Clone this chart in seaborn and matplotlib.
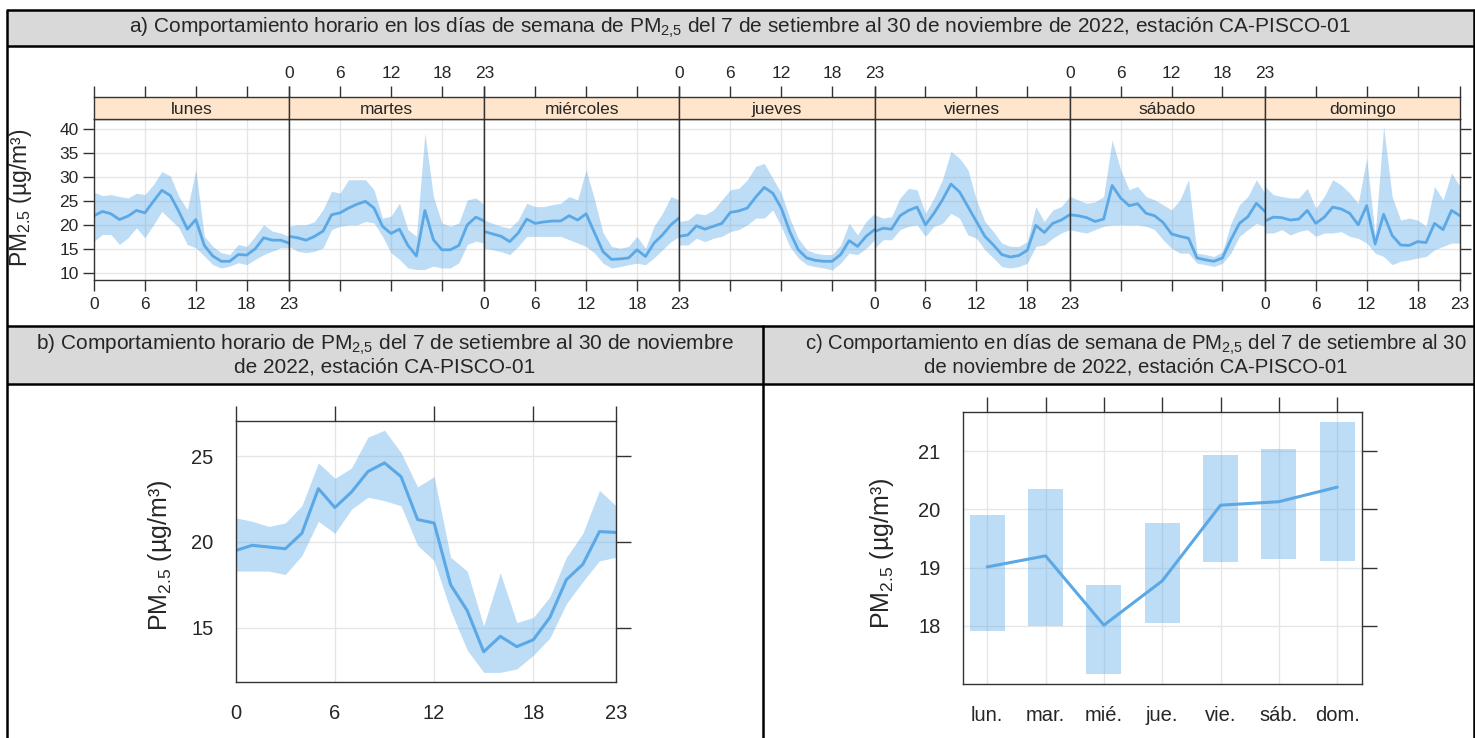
import matplotlib
matplotlib.use("Agg")
import matplotlib.pyplot as plt
import seaborn as sns
import numpy as np
import pandas as pd

# ---------------- data ----------------
hours = list(range(24))
days = ["lunes", "martes", "miércoles", "jueves", "viernes", "sábado", "domingo"]

lunes_mean = [21.9, 22.8, 22.3, 21.1, 21.8, 23.0, 22.5, 24.9, 27.2, 26.1, 22.8, 19.1, 21.1, 15.7, 13.5, 12.4, 12.4, 13.8, 13.7, 15.0, 17.3, 16.8, 16.8, 16.2]
lunes_hi = [26.8, 26.1, 26.3, 25.9, 25.6, 26.6, 26.3, 28.4, 31.1, 30.2, 25.9, 23.2, 31.5, 17.6, 15.5, 14.2, 13.8, 15.9, 15.5, 17.6, 20.0, 18.7, 18.3, 17.6]
lunes_lo = [16.6, 18.0, 18.0, 15.9, 17.3, 19.4, 17.3, 20.0, 22.8, 21.1, 19.4, 15.9, 15.2, 13.5, 11.7, 11.0, 11.4, 12.1, 11.7, 12.8, 13.8, 14.5, 15.2, 15.2]

martes_mean = [17.6, 17.3, 16.8, 17.6, 18.7, 22.1, 22.5, 23.5, 24.3, 24.9, 23.5, 19.7, 18.2, 19.1, 15.7, 13.5, 23.0, 16.9, 14.8, 14.8, 15.7, 20.0, 21.6, 20.8]
martes_hi = [19.7, 20.0, 20.0, 20.7, 23.2, 27.0, 26.6, 29.4, 29.4, 29.4, 27.3, 21.4, 21.8, 24.5, 19.0, 17.6, 39.1, 25.9, 20.4, 19.7, 20.4, 25.2, 25.6, 24.2]
martes_lo = [15.5, 14.5, 14.2, 14.5, 15.2, 19.0, 19.7, 20.0, 20.0, 20.7, 20.4, 17.6, 14.2, 12.8, 11.0, 10.7, 10.7, 11.4, 11.0, 11.0, 12.1, 15.9, 16.6, 16.2]

miercoles_mean = [18.6, 18.1, 17.6, 16.5, 18.3, 21.2, 20.3, 20.6, 20.8, 20.8, 21.9, 21.0, 22.3, 18.3, 14.4, 12.8, 12.9, 13.1, 14.8, 13.4, 16.2, 17.9, 20.0, 21.5]
miercoles_hi = [21.0, 20.3, 19.7, 19.3, 21.0, 24.5, 23.8, 23.8, 24.2, 24.5, 25.9, 25.2, 31.5, 25.2, 18.3, 15.5, 15.1, 15.5, 17.6, 15.1, 19.7, 22.4, 25.9, 25.2]
miercoles_lo = [15.1, 14.8, 14.4, 13.8, 15.5, 17.6, 17.6, 17.6, 17.6, 17.6, 16.9, 16.2, 15.5, 14.1, 12.0, 11.0, 11.3, 11.7, 12.0, 11.7, 13.1, 14.8, 16.5, 17.6]

jueves_mean = [17.6, 17.9, 19.8, 19.1, 19.7, 20.3, 22.6, 22.9, 23.5, 25.8, 27.8, 26.6, 23.5, 18.6, 14.8, 13.1, 12.6, 12.4, 12.4, 13.8, 16.7, 15.5, 17.6, 19.0]
jueves_hi = [20.7, 21.0, 22.4, 22.1, 23.1, 25.2, 27.3, 27.6, 29.4, 32.2, 32.8, 29.7, 26.6, 21.4, 17.2, 14.8, 14.1, 13.8, 13.8, 15.8, 20.3, 17.9, 20.7, 22.4]
jueves_lo = [15.8, 15.8, 17.2, 16.5, 17.2, 17.6, 18.6, 19.0, 20.0, 21.4, 21.4, 23.1, 19.7, 15.5, 13.1, 11.7, 11.3, 11.0, 10.6, 12.0, 14.1, 13.8, 15.1, 16.9]

viernes_mean = [18.6, 19.3, 19.1, 21.9, 23.0, 23.7, 20.0, 22.4, 25.2, 28.5, 26.9, 23.8, 20.7, 17.6, 15.8, 13.8, 13.3, 13.6, 14.7, 19.9, 18.4, 20.3, 21.0, 22.1]
viernes_hi = [22.1, 21.4, 21.7, 25.6, 27.6, 27.3, 22.4, 25.6, 29.4, 35.3, 33.9, 31.5, 25.2, 20.7, 18.6, 16.2, 15.5, 15.5, 16.5, 23.8, 20.7, 23.1, 23.8, 25.9]
viernes_lo = [15.1, 16.9, 16.9, 19.0, 19.7, 20.0, 17.6, 19.7, 20.3, 22.4, 21.4, 17.9, 17.2, 14.8, 13.1, 11.3, 11.0, 11.3, 12.0, 15.5, 15.8, 17.2, 18.3, 19.0]

sabado_mean = [22.1, 21.9, 21.5, 20.7, 21.2, 28.2, 25.6, 24.0, 24.4, 22.4, 21.9, 20.5, 18.1, 17.6, 17.2, 13.1, 12.7, 12.4, 13.1, 16.9, 20.3, 21.7, 24.5, 22.8]
sabado_hi = [25.9, 25.2, 24.5, 24.8, 25.9, 37.7, 31.5, 27.3, 28.0, 25.9, 25.2, 24.2, 23.1, 25.2, 29.4, 14.1, 13.8, 13.4, 14.4, 20.3, 24.2, 25.9, 29.4, 26.6]
sabado_lo = [19.0, 18.6, 18.3, 19.0, 19.7, 20.0, 20.0, 20.0, 20.0, 19.7, 19.0, 16.9, 15.1, 14.1, 14.1, 12.0, 11.7, 11.3, 12.0, 14.1, 17.6, 19.0, 20.3, 19.7]

domingo_mean = [20.8, 21.6, 21.5, 21.0, 21.2, 23.0, 20.3, 21.6, 23.7, 23.3, 22.4, 20.0, 24.0, 16.0, 22.2, 17.8, 15.8, 15.7, 16.5, 16.3, 20.3, 19.0, 23.0, 21.9]
domingo_hi = [28.0, 26.3, 25.9, 25.6, 25.6, 27.6, 23.5, 25.9, 29.4, 28.3, 26.6, 24.5, 33.9, 17.9, 40.5, 25.9, 21.0, 21.4, 21.0, 19.7, 28.0, 25.2, 30.8, 28.0]
domingo_lo = [18.3, 18.3, 19.0, 17.9, 18.6, 19.0, 17.6, 18.3, 18.3, 18.6, 17.6, 17.2, 16.2, 14.1, 13.4, 11.7, 12.4, 12.7, 13.1, 13.4, 14.8, 15.5, 16.2, 16.2]

hour_mean = [19.5, 19.8, 19.7, 19.6, 20.5, 23.1, 22.0, 22.9, 24.1, 24.6, 23.8, 21.3, 21.1, 17.5, 16.0, 13.6, 14.5, 13.9, 14.3, 15.6, 17.8, 18.7, 20.6, 20.55]
hour_hi = [21.4, 21.2, 20.9, 21.1, 22.1, 24.6, 23.7, 24.3, 26.1, 26.5, 25.2, 23.2, 23.8, 19.1, 18.3, 15.1, 18.2, 15.3, 15.6, 16.8, 19.1, 20.5, 23.0, 22.1]
hour_lo = [18.3, 18.3, 18.3, 18.1, 19.2, 21.2, 20.5, 21.9, 22.6, 22.4, 22.1, 19.8, 18.9, 16.0, 13.7, 12.4, 12.4, 12.6, 13.4, 14.4, 16.4, 17.7, 18.9, 19.1]

wd_labels = ["lun.", "mar.", "mié.", "jue.", "vie.", "sáb.", "dom."]
wd_mean = [19.01, 19.2, 18.01, 18.77, 20.07, 20.13, 20.38]
wd_lo = [17.91, 17.99, 17.17, 18.04, 19.09, 19.15, 19.12]
wd_hi = [19.90, 20.34, 18.70, 19.77, 20.94, 21.04, 21.50]

hour_ticks = [0, 6, 12, 18, 23]

title_a = "a) Comportamiento horario en los días de semana de PM$_\\mathregular{2{,}5}$ del 7 de setiembre al 30 de noviembre de 2022, estación CA-PISCO-01"
title_b = "b) Comportamiento horario de PM$_\\mathregular{2{,}5}$ del 7 de setiembre al 30 de noviembre\nde 2022, estación CA-PISCO-01"
title_c = "c) Comportamiento en días de semana de PM$_\\mathregular{2{,}5}$ del 7 de setiembre al 30\nde noviembre de 2022, estación CA-PISCO-01"
ylab = "PM$_\\mathregular{2.5}$ (µg/m³)"

day_series = [
    (lunes_mean, lunes_lo, lunes_hi),
    (martes_mean, martes_lo, martes_hi),
    (miercoles_mean, miercoles_lo, miercoles_hi),
    (jueves_mean, jueves_lo, jueves_hi),
    (viernes_mean, viernes_lo, viernes_hi),
    (sabado_mean, sabado_lo, sabado_hi),
    (domingo_mean, domingo_lo, domingo_hi),
]

# ---------------- style ----------------
sns.set_style("white")
plt.rcParams["font.family"] = ["Liberation Sans", "DejaVu Sans"]
plt.rcParams["mathtext.fontset"] = "custom"
plt.rcParams["mathtext.rm"] = "Liberation Sans"
plt.rcParams["mathtext.it"] = "Liberation Sans:italic"
plt.rcParams["mathtext.bf"] = "Liberation Sans:bold"

LINE = "#5BA8E6"
ALPHA = 0.4
GRID = "#e6e6e6"
AXC = "#333333"
STRIP = "#FFE5CC"

W, H = 1475, 738
fig = plt.figure(figsize=(W / 100, H / 100), dpi=100)


def ax_px(x0, y0, x1, y1, **kw):
    return fig.add_axes([x0 / W, 1 - y1 / H, (x1 - x0) / W, (y1 - y0) / H], **kw)


# background table
bg = ax_px(0, 0, W, H)
bg.set_xlim(0, W)
bg.set_ylim(H, 0)
bg.axis("off")
bg.set_zorder(-5)
bg.fill_between([7, 1474], 9.5, 45.5, color="#d9d9d9", lw=0)
bg.fill_between([7, 1474], 326, 384, color="#d9d9d9", lw=0)
LW = 1.8
for yy in [9.5, 45.5, 326, 384]:
    bg.plot([7, 1474], [yy, yy], color="black", lw=LW, solid_capstyle="butt")
for xx in [7, 1474]:
    bg.plot([xx, xx], [9.5, H], color="black", lw=LW)
bg.plot([763, 763], [326, H], color="black", lw=LW)

bg.text(740, 28, title_a, ha="center", va="center", fontsize=15)
bg.text(385, 355, title_b, ha="center", va="center", fontsize=15, linespacing=1.05)
bg.text(1136, 355, title_c, ha="center", va="center", fontsize=14.7, linespacing=1.05)

bg.text(20, 198, ylab, ha="center", va="center", rotation=90, fontsize=16.5)
bg.text(160, 555, ylab, ha="center", va="center", rotation=90, fontsize=18)
bg.text(882, 553, ylab, ha="center", va="center", rotation=90, fontsize=18)


def style_spines(ax):
    for s in ax.spines.values():
        s.set_visible(True)
        s.set_color(AXC)
        s.set_linewidth(1.0)


# ---------------- panel a ----------------
pw = (1460 - 94) / 7
for i, (name, (m, lo, hi)) in enumerate(zip(days, day_series)):
    x0 = 94 + i * pw
    ax = ax_px(x0, 119.3, x0 + pw, 280)
    df = pd.DataFrame({"hora": hours, "pm": m})
    ax.fill_between(hours, lo, hi, color=LINE, alpha=ALPHA, lw=0)
    sns.lineplot(data=df, x="hora", y="pm", ax=ax, color=LINE, lw=2.0)
    ax.set_xlim(0, 23)
    ax.set_ylim(8.5, 42)
    ax.set_xticks(hour_ticks)
    ax.set_yticks([10, 15, 20, 25, 30, 35, 40])
    ax.grid(True, color=GRID, lw=1)
    ax.set_axisbelow(True)
    ax.set_xlabel("")
    ax.set_ylabel("")
    style_spines(ax)
    ax.tick_params(axis="x", direction="out", length=8, width=1, color=AXC,
                   bottom=True, labelbottom=(i % 2 == 0), labelsize=12.5, pad=4)
    ax.tick_params(axis="y", direction="out", length=8, width=1, color=AXC,
                   left=(i == 0), labelleft=(i == 0), right=(i == 6), labelright=False,
                   labelsize=12.5, pad=3)
    st = ax_px(x0, 97.3, x0 + pw, 119.3)
    st.set_facecolor(STRIP)
    st.set_xlim(0, 23)
    st.set_ylim(0, 1)
    st.set_xticks(hour_ticks)
    st.set_yticks([])
    style_spines(st)
    st.tick_params(axis="x", direction="out", length=8, width=1, color=AXC,
                   top=True, bottom=False, labeltop=(i % 2 == 1), labelbottom=False,
                   labelsize=12.5, pad=4)
    st.text(11.5, 0.45, name, ha="center", va="center", fontsize=12.5)

# ---------------- panel b ----------------
axb = ax_px(235.7, 421, 616, 682)
dfb = pd.DataFrame({"hora": hours, "pm": hour_mean})
axb.fill_between(hours, hour_lo, hour_hi, color=LINE, alpha=ALPHA, lw=0)
sns.lineplot(data=dfb, x="hora", y="pm", ax=axb, color=LINE, lw=2.2)
axb.set_xlim(0, 23)
axb.set_ylim(11.84, 27.04)
axb.set_xticks(hour_ticks)
axb.set_yticks([15, 20, 25])
axb.grid(True, color=GRID, lw=1)
axb.set_axisbelow(True)
axb.set_xlabel("")
axb.set_ylabel("")
style_spines(axb)
axb.tick_params(direction="out", length=11, width=1, color=AXC, labelsize=14.5,
                top=True, right=True, labeltop=False, labelright=False, pad=5)

# ---------------- panel c ----------------
axc = ax_px(962.7, 411.7, 1361.7, 684)
pos = np.arange(len(wd_labels))
axc.bar(pos, np.array(wd_hi) - np.array(wd_lo), bottom=wd_lo, width=0.6,
        color=LINE, alpha=ALPHA, lw=0)
dfc = pd.DataFrame({"pos": pos, "pm": wd_mean})
sns.lineplot(data=dfc, x="pos", y="pm", ax=axc, color=LINE, lw=2.2)
axc.set_xlim(-0.42, 6.42)
axc.set_ylim(17.0, 21.675)
axc.set_xticks(pos)
axc.set_xticklabels(wd_labels)
axc.set_yticks([18, 19, 20, 21])
axc.grid(True, color=GRID, lw=1)
axc.set_axisbelow(True)
axc.set_xlabel("")
axc.set_ylabel("")
style_spines(axc)
axc.tick_params(direction="out", length=11, width=1, color=AXC, labelsize=14.5,
                top=True, right=True, labeltop=False, labelright=False, pad=5)

fig.savefig("out.png", dpi=100)
